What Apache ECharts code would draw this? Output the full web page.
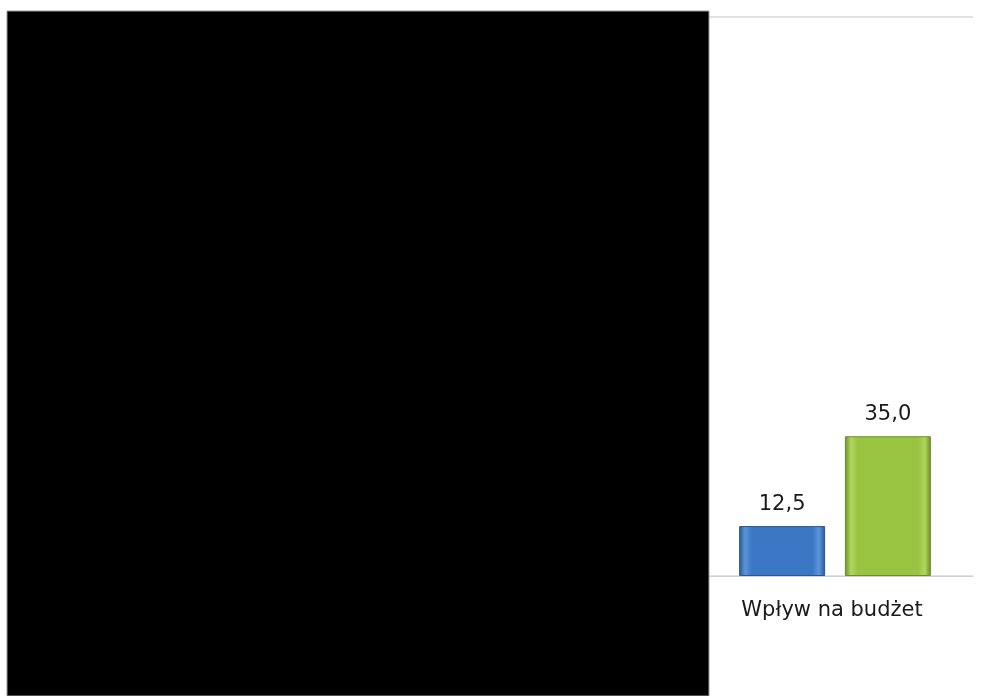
<!DOCTYPE html>
<html>
<head>
<meta charset="utf-8">
<script src="https://cdn.jsdelivr.net/npm/echarts@6/dist/echarts.min.js"></script>
<style>
  html, body { margin: 0; padding: 0; background: #ffffff; }
  #chart { width: 989px; height: 696px; }
</style>
</head>
<body>
<div id="chart"></div>
<script>
// Category and series values
const categories = ['Wpływ na budżet'];
const seriesNames = ['Seria 1', 'Seria 2'];
const seriesA = [12.5];
const seriesB = [35.0];
const axisMax = 140;

const fmt = (v) => v.toFixed(1).replace('.', ',');

// Bevelled bar fill: darker edges, lighter rim, solid middle
function bevel(light, mid, dark) {
  return {
    type: 'linear', x: 0, y: 0, x2: 1, y2: 0,
    colorStops: [
      { offset: 0, color: dark },
      { offset: 0.07, color: light },
      { offset: 0.15, color: mid },
      { offset: 0.85, color: mid },
      { offset: 0.93, color: light },
      { offset: 1, color: dark }
    ]
  };
}

const labelStyle = {
  show: true, position: 'top', distance: 11, color: '#1a1a1a',
  fontSize: 21, fontFamily: 'DejaVu Sans',
  formatter: (p) => fmt(p.value)
};

const chart = echarts.init(document.getElementById('chart'));
chart.setOption({
  backgroundColor: '#ffffff',
  animation: false,
  grid: { left: 697, right: 16, top: 17, bottom: 120, containLabel: false },
  xAxis: {
    type: 'category',
    data: categories,
    axisLine: { show: true, lineStyle: { color: '#d0d0d0', width: 1 } },
    axisTick: { show: false },
    axisLabel: {
      color: '#1a1a1a', fontSize: 21, margin: 24,
      fontFamily: 'DejaVu Sans',
      padding: [0, 6, 0, 0]
    }
  },
  yAxis: {
    type: 'value',
    min: 0, max: axisMax, interval: axisMax,
    axisLine: { show: false },
    axisTick: { show: false },
    axisLabel: { show: false },
    splitLine: { show: true, lineStyle: { color: '#d9d9d9', width: 1.5 } }
  },
  series: [
    {
      name: seriesNames[0], type: 'bar', data: seriesA,
      barWidth: 86, barGap: '23%',
      itemStyle: { color: bevel('#5b95dc', '#3c77c5', '#2a568f'), borderColor: '#2a568f', borderWidth: 1 },
      label: labelStyle
    },
    {
      name: seriesNames[1], type: 'bar', data: seriesB,
      barWidth: 86,
      itemStyle: { color: bevel('#b0d85c', '#98c441', '#6d8d2c'), borderColor: '#6d8d2c', borderWidth: 1 },
      label: labelStyle
    }
  ],
  graphic: [
    {
      type: 'rect', z: 100,
      shape: { x: 7, y: 11, width: 702, height: 685 },
      style: { fill: '#000000', stroke: '#9a9a9a', lineWidth: 1 }
    }
  ]
});
</script>
</body>
</html>
